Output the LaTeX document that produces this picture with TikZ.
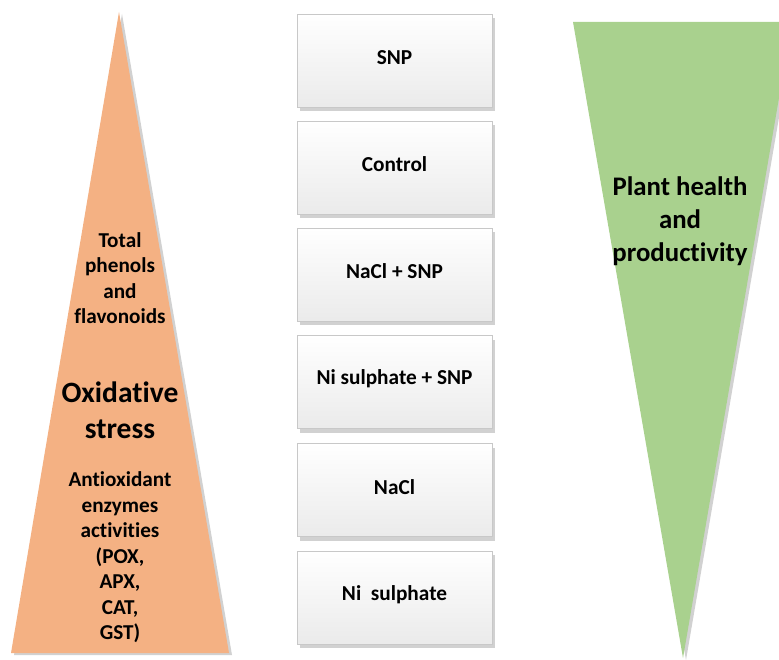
\documentclass[tikz,border=0pt]{standalone}
\usepackage{fontspec}
\setmainfont[Ligatures=NoCommon]{Carlito}
\usetikzlibrary{shadows}
\definecolor{orangetri}{HTML}{F4B183}
\definecolor{greentri}{HTML}{A9D18E}
\definecolor{boxedge}{HTML}{C8C8C8}
\begin{document}
\begin{tikzpicture}[x=1pt,y=-1pt,
  treat/.style={draw=boxedge, line width=0.8pt, top color=white, bottom color=black!8,
    minimum width=195pt, minimum height=93pt, inner sep=0pt,
    drop shadow={shadow xshift=3pt, shadow yshift=-4pt, opacity=0.3, fill=black!60}},
  boxtxt/.style={inner sep=0pt, font=\bfseries\fontsize{21.3}{25}\selectfont},
  tri/.style={draw=none,
    drop shadow={shadow xshift=3pt, shadow yshift=-2pt, opacity=0.3, fill=black!60}},
  smalltxt/.style={align=center, inner sep=0pt, font=\bfseries\fontsize{21.2}{25.5}\selectfont},
  bigtxt/.style={align=center, inner sep=0pt, font=\bfseries\fontsize{29.5}{36}\selectfont},
  midtxt/.style={align=center, inner sep=0pt, font=\bfseries\fontsize{26.8}{33}\selectfont}]
\useasboundingbox (0,0) rectangle (779,660);
\begin{scope}
\clip (0,0) rectangle (779,660);
% orange triangle
\path[tri, fill=orangetri] (119,12) -- (229,653) -- (11,653) -- cycle;
% green triangle
\path[tri, fill=greentri] (573,22) -- (792,22) -- (683,658) -- cycle;
\end{scope}
% left texts
\node[smalltxt] (phen) at (120,278) {Total\\phenols\\and\\flavonoids};
\node[bigtxt] (oxi) at (120,410) {Oxidative\\stress};
\node[smalltxt] (anti) at (120,557.5) {Antioxidant\\enzymes\\activities\\(POX,\\APX,\\CAT,\\GST)};
% right text
\node[midtxt] (plant) at (680,221) {Plant health\\and\\productivity};
% boxes
\node[treat] (b1) at (394.5,60.5) {};
\node[treat] (b2) at (394.5,167.5) {};
\node[treat] (b3) at (394.5,274.5) {};
\node[treat] (b4) at (394.5,382) {};
\node[treat] (b5) at (394.5,490) {};
\node[treat] (b6) at (394.5,597.5) {};
\node[boxtxt] (t1) at ([yshift=3pt]b1.center) {SNP};
\node[boxtxt] (t2) at ([yshift=3pt]b2.center) {Control};
\node[boxtxt] (t3) at ([yshift=3pt]b3.center) {NaCl + SNP};
\node[boxtxt] (t4) at ([yshift=3pt]b4.center) {Ni sulphate + SNP};
\node[boxtxt] (t5) at ([yshift=3pt]b5.center) {NaCl};
\node[boxtxt] (t6) at ([yshift=3pt]b6.center) {Ni\ \ sulphate};
\end{tikzpicture}
\end{document}
